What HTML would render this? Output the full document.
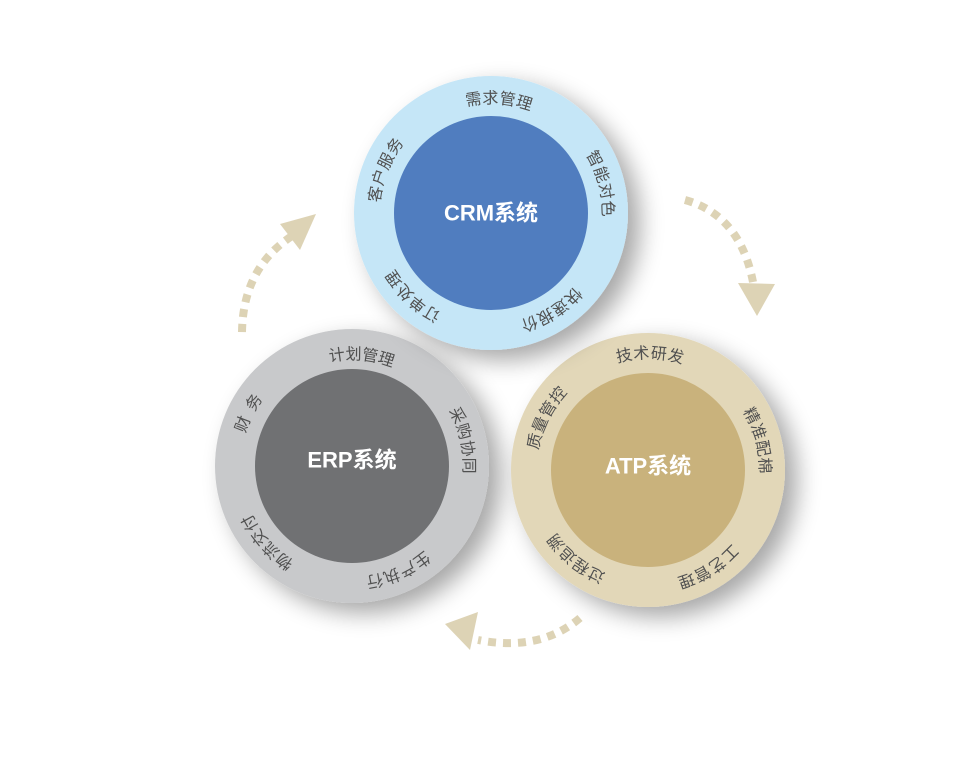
<!DOCTYPE html>
<html><head><meta charset="utf-8"><style>
html,body{margin:0;padding:0;background:#fff;}
svg{display:block;}
.t{font-family:"Liberation Sans","Noto Sans CJK SC",sans-serif;font-size:16px;fill:#505050;font-weight:normal;}
.c{font-family:"Liberation Sans","Noto Sans CJK SC",sans-serif;font-size:22px;fill:#fff;font-weight:bold;}
</style></head><body>
<svg width="966" height="764" viewBox="0 0 966 764" xmlns="http://www.w3.org/2000/svg">
<defs>
<filter id="sh" x="-30%" y="-30%" width="170%" height="170%">
<feGaussianBlur in="SourceAlpha" stdDeviation="12"/>
<feOffset dx="12" dy="10"/>
<feComponentTransfer><feFuncA type="linear" slope="0.35"/></feComponentTransfer>
<feMerge><feMergeNode/><feMergeNode in="SourceGraphic"/></feMerge>
</filter>
</defs>
<g fill="none" stroke="#ddd3b5" stroke-width="8" stroke-dasharray="8 7">
<path d="M242,332 Q243,268 292,236"/>
<path d="M685,200 Q740,215 753,282"/>
<path d="M580,618 Q540,652 478,640"/>
</g>
<g fill="#ddd3b5">
<polygon points="316,214 280,224 300,250"/>
<polygon points="757,316 738,283 775,284"/>
<polygon points="445,624 478,612 470,650"/>
</g>
<g transform="translate(352,466)">
<circle r="137" fill="#c8c9cb" filter="url(#sh)"/>
<circle r="97" fill="#707173"/>
<text class="c" text-anchor="middle" dominant-baseline="central" y="-6">ERP系统</text>
<g class="t" text-anchor="middle">
<text transform="rotate(-7.8) translate(0,-111)" dominant-baseline="central">计</text>
<text transform="rotate(0.8) translate(0,-111)" dominant-baseline="central">划</text>
<text transform="rotate(9.3) translate(0,-111)" dominant-baseline="central">管</text>
<text transform="rotate(17.8) translate(0,-111)" dominant-baseline="central">理</text>
<text transform="rotate(64.3) translate(0,-116)" dominant-baseline="central">采</text>
<text transform="rotate(72.8) translate(0,-116)" dominant-baseline="central">购</text>
<text transform="rotate(81.3) translate(0,-116)" dominant-baseline="central">协</text>
<text transform="rotate(89.8) translate(0,-116)" dominant-baseline="central">同</text>
<text transform="rotate(143.3) translate(0,-116)" dominant-baseline="central">生</text>
<text transform="rotate(151.8) translate(0,-116)" dominant-baseline="central">产</text>
<text transform="rotate(160.3) translate(0,-116)" dominant-baseline="central">执</text>
<text transform="rotate(168.8) translate(0,-116)" dominant-baseline="central">行</text>
<text transform="rotate(215.3) translate(0,-116)" dominant-baseline="central">物</text>
<text transform="rotate(223.8) translate(0,-116)" dominant-baseline="central">流</text>
<text transform="rotate(232.3) translate(0,-116)" dominant-baseline="central">交</text>
<text transform="rotate(240.8) translate(0,-116)" dominant-baseline="central">付</text>
<text transform="rotate(291) translate(0,-116)" dominant-baseline="central">财</text>
<text transform="rotate(303) translate(0,-116)" dominant-baseline="central">务</text>
</g>
</g>
<g transform="translate(648,470)">
<circle r="137" fill="#e2d7b8" filter="url(#sh)"/>
<circle r="97" fill="#c9b27c"/>
<text class="c" text-anchor="middle" dominant-baseline="central" y="-4">ATP系统</text>
<g class="t" text-anchor="middle">
<text transform="rotate(-11.8) translate(0,-116)" dominant-baseline="central">技</text>
<text transform="rotate(-3.3) translate(0,-116)" dominant-baseline="central">术</text>
<text transform="rotate(5.3) translate(0,-116)" dominant-baseline="central">研</text>
<text transform="rotate(13.8) translate(0,-116)" dominant-baseline="central">发</text>
<text transform="rotate(62.3) translate(0,-116)" dominant-baseline="central">精</text>
<text transform="rotate(70.8) translate(0,-116)" dominant-baseline="central">准</text>
<text transform="rotate(79.3) translate(0,-116)" dominant-baseline="central">配</text>
<text transform="rotate(87.8) translate(0,-116)" dominant-baseline="central">棉</text>
<text transform="rotate(135.3) translate(0,-116)" dominant-baseline="central">工</text>
<text transform="rotate(143.8) translate(0,-116)" dominant-baseline="central">艺</text>
<text transform="rotate(152.3) translate(0,-116)" dominant-baseline="central">管</text>
<text transform="rotate(160.8) translate(0,-116)" dominant-baseline="central">理</text>
<text transform="rotate(206.3) translate(0,-116)" dominant-baseline="central">过</text>
<text transform="rotate(214.8) translate(0,-116)" dominant-baseline="central">程</text>
<text transform="rotate(223.3) translate(0,-116)" dominant-baseline="central">追</text>
<text transform="rotate(231.8) translate(0,-116)" dominant-baseline="central">溯</text>
<text transform="rotate(284.3) translate(0,-116)" dominant-baseline="central">质</text>
<text transform="rotate(292.8) translate(0,-116)" dominant-baseline="central">量</text>
<text transform="rotate(301.3) translate(0,-116)" dominant-baseline="central">管</text>
<text transform="rotate(309.8) translate(0,-116)" dominant-baseline="central">控</text>
</g>
</g>
<g transform="translate(491,213)">
<circle r="137" fill="#c5e6f7" filter="url(#sh)"/>
<circle r="97" fill="#507dbf"/>
<text class="c" text-anchor="middle" dominant-baseline="central" y="0">CRM系统</text>
<g class="t" text-anchor="middle">
<text transform="rotate(-8.8) translate(0,-114)" dominant-baseline="central">需</text>
<text transform="rotate(-0.3) translate(0,-114)" dominant-baseline="central">求</text>
<text transform="rotate(8.3) translate(0,-114)" dominant-baseline="central">管</text>
<text transform="rotate(16.8) translate(0,-114)" dominant-baseline="central">理</text>
<text transform="rotate(62.3) translate(0,-116)" dominant-baseline="central">智</text>
<text transform="rotate(70.8) translate(0,-116)" dominant-baseline="central">能</text>
<text transform="rotate(79.3) translate(0,-116)" dominant-baseline="central">对</text>
<text transform="rotate(87.8) translate(0,-116)" dominant-baseline="central">色</text>
<text transform="rotate(135.3) translate(0,-116)" dominant-baseline="central">快</text>
<text transform="rotate(143.8) translate(0,-116)" dominant-baseline="central">速</text>
<text transform="rotate(152.3) translate(0,-116)" dominant-baseline="central">报</text>
<text transform="rotate(160.8) translate(0,-116)" dominant-baseline="central">价</text>
<text transform="rotate(210.3) translate(0,-116)" dominant-baseline="central">订</text>
<text transform="rotate(218.8) translate(0,-116)" dominant-baseline="central">单</text>
<text transform="rotate(227.3) translate(0,-116)" dominant-baseline="central">处</text>
<text transform="rotate(235.8) translate(0,-116)" dominant-baseline="central">理</text>
<text transform="rotate(279.3) translate(0,-116)" dominant-baseline="central">客</text>
<text transform="rotate(287.8) translate(0,-116)" dominant-baseline="central">户</text>
<text transform="rotate(296.3) translate(0,-116)" dominant-baseline="central">服</text>
<text transform="rotate(304.8) translate(0,-116)" dominant-baseline="central">务</text>
</g>
</g>
</svg>
</body></html>
